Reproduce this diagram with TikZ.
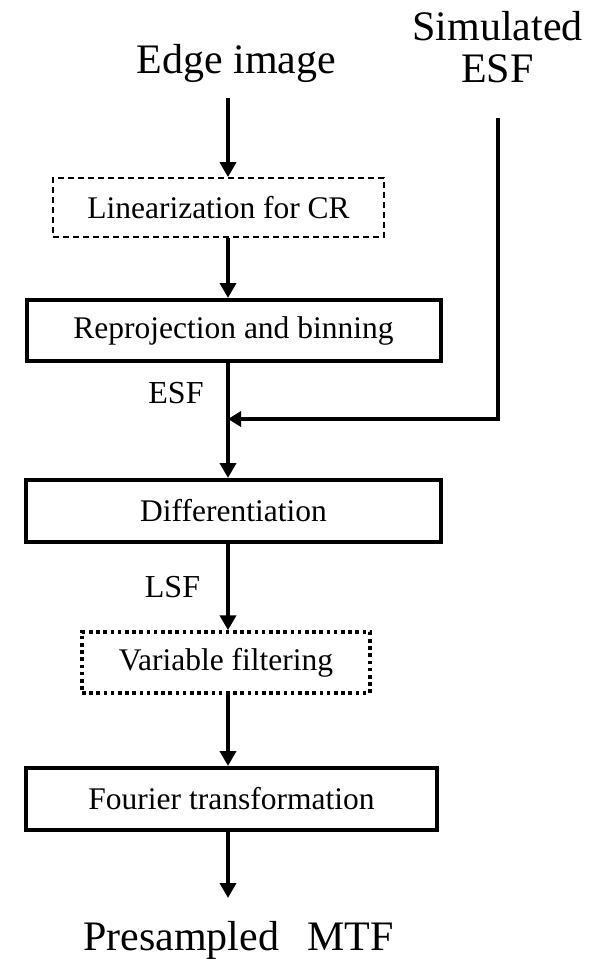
\documentclass[tikz,border=0pt]{standalone}
\usepackage{fontspec}
\setmainfont{Liberation Serif}
\usetikzlibrary{arrows.meta,calc}
\begin{document}
\begin{tikzpicture}[x=1pt,y=-1pt,
  boxtxt/.style={font=\fontsize{31.5}{36}\selectfont},
  bigtxt/.style={font=\fontsize{42}{48}\selectfont, inner sep=0pt},
  midtxt/.style={font=\fontsize{32}{36}\selectfont, inner sep=0pt},
  solidbox/.style={draw, line width=4pt, inner sep=0pt, boxtxt},
  dashbox/.style={draw, line width=1.8pt, dash pattern=on 6pt off 4pt, inner sep=0pt, boxtxt},
  dotbox/.style={draw, line width=3.5pt, dash pattern=on 3.6pt off 3.6pt, inner sep=0pt, boxtxt},
  arr/.style={line width=4.5pt, -{Triangle[width=16pt,length=15pt]}},
  harr/.style={line width=4pt, -{Triangle[width=15pt,length=13pt]}}
]
\useasboundingbox (0,0) rectangle (590,959);
\fill[white] (0,0) rectangle (590,959);

% top labels
\node[bigtxt, anchor=base] (edge) at (236.5,73) {Edge image};
\node[bigtxt, anchor=base] (sim1) at (497.5,40) {Simulated};
\node[bigtxt, anchor=base] (sim2) at (497.5,82) {ESF};

% boxes
\node[dashbox, minimum width=331pt, minimum height=59pt] (lin) at (218.5,207.5) {Linearization for CR};
\node[solidbox, minimum width=414pt, minimum height=61pt] (rep) at (233.5,330.5) {Reprojection and binning};
\node[solidbox, minimum width=415pt, minimum height=62pt] (dif) at (233.5,511) {Differentiation};
\node[dotbox, minimum width=288pt, minimum height=61pt] (var) at (226,662.5) {Variable filtering};
\node[solidbox, minimum width=411pt, minimum height=62pt] (fou) at (231.5,799) {Fourier transformation};

% side labels
\node[midtxt, anchor=base] (esf) at (176,403) {ESF};
\node[midtxt, anchor=base] (lsf) at (172.5,597) {LSF};

% bottom label
\node[bigtxt, anchor=base] (mtf) at (238.5,950) {Presampled\hspace{28pt}MTF};

% coordinates
\coordinate (e1) at (228,98);
\coordinate (simstart) at (498,118);
\coordinate (join) at (228,419);
\coordinate (mtftip) at (228,898);

% connectors
\draw[arr] (e1) -- (e1 |- lin.north);
\draw[arr] (e1 |- lin.south) -- (e1 |- rep.north);
\draw[arr] (e1 |- rep.south) -- (e1 |- dif.north);
\draw[harr] (simstart) |- (join);
\draw[arr] (e1 |- dif.south) -- (e1 |- var.north);
\draw[arr] (e1 |- var.south) -- (e1 |- fou.north);
\draw[arr] (e1 |- fou.south) -- (mtftip);
\end{tikzpicture}
\end{document}
